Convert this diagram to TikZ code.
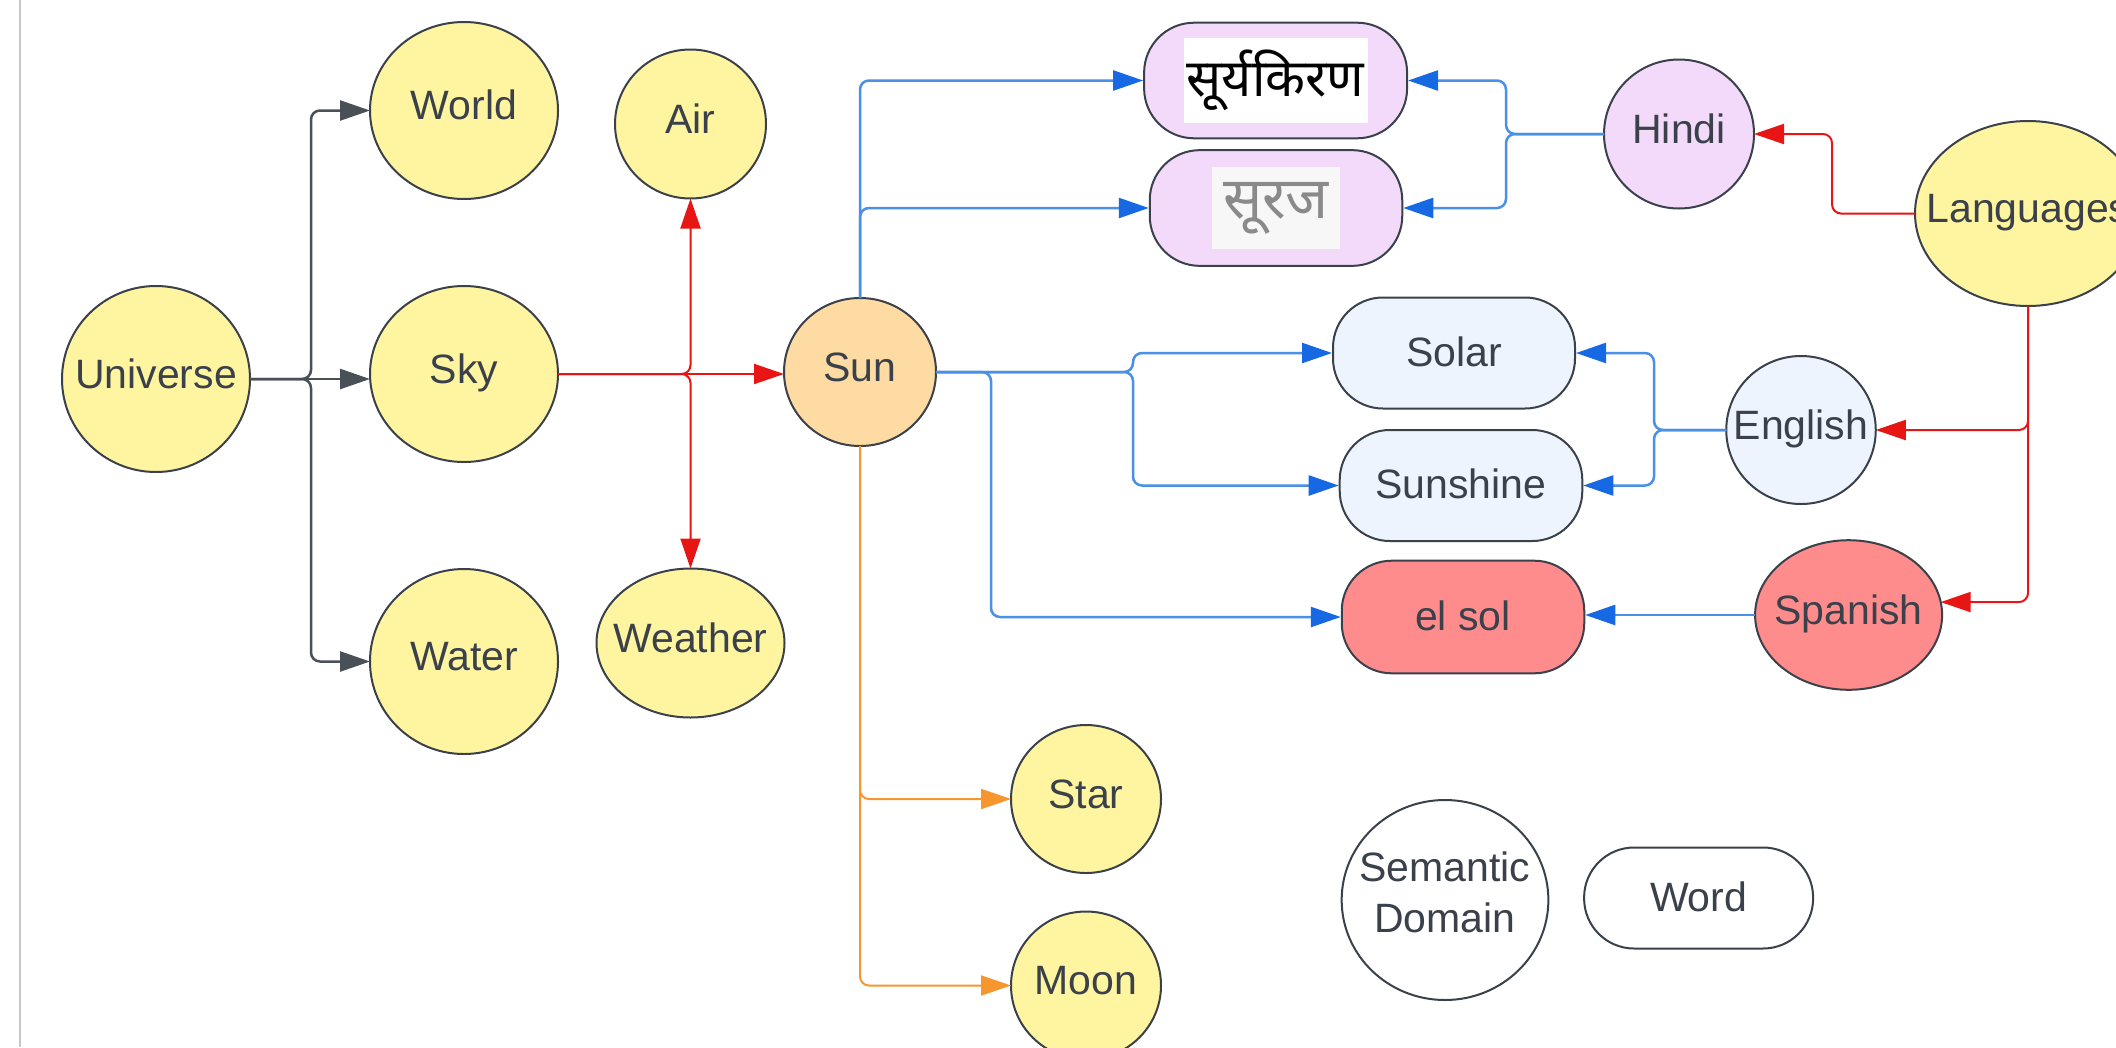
\documentclass[tikz,border=0pt]{standalone}
\usepackage{fontspec}
\setmainfont{Liberation Sans}
\newfontfamily\devfont[Script=Devanagari]{Noto Sans}
\usetikzlibrary{shapes.geometric,arrows.meta}
\definecolor{ink}{HTML}{3A414A}
\definecolor{yel}{HTML}{FFF5A1}
\definecolor{sunc}{HTML}{FEDBA2}
\definecolor{pinkc}{HTML}{F3DAFA}
\definecolor{lblue}{HTML}{EDF4FE}
\definecolor{salmon}{HTML}{FF8C8C}
\definecolor{lnblue}{HTML}{4A90E6}
\definecolor{tipblue}{HTML}{1668E3}
\definecolor{lnred}{HTML}{E81515}
\definecolor{lnorange}{HTML}{F7962E}
\definecolor{lngray}{HTML}{4A5058}
\definecolor{hkgray}{HTML}{8A8A8A}
\definecolor{hkbg}{HTML}{F7F7F7}
\newcommand{\ctext}[1]{\makebox[0pt]{\raisebox{-0.22em}[0pt][0pt]{#1}}}
\newcommand{\ptext}[1]{\raisebox{3pt}{#1}}
\begin{document}
\begin{tikzpicture}[x=1pt,y=-1pt,
  every node/.style={font=\fontsize{41}{48}\selectfont, text=ink},
  circ/.style={ellipse, draw=ink, line width=2pt, inner sep=0pt, outer sep=0pt},
  pill/.style={rectangle, draw=ink, line width=2pt, inner sep=0pt, rounded corners=50pt},
  conn/.style={line width=2.5pt, rounded corners=9pt, -{Triangle[length=30pt,width=20pt]}},
  gconn/.style={conn, draw=lngray},
  rconn/.style={conn, draw=lnred, line width=2pt},
  bconn/.style={line width=2.5pt, rounded corners=9pt, draw=lnblue, -{Triangle[length=30pt,width=20pt,color=tipblue]}},
  oconn/.style={conn, draw=lnorange, line width=2pt}
]
\fill[white] (0,0) rectangle (2116,1047);
\clip (0,0) rectangle (2116,1047);
\draw[black!22, line width=1.5pt] (20,0) -- (20,1047);

% nodes
\node[circ, fill=yel, minimum width=188pt, minimum height=186pt] (uni) at (156,379) {\ctext{Universe}};
\node[circ, fill=yel, minimum width=188pt, minimum height=177pt] (world) at (464,110.5) {\ctext{World}};
\node[circ, fill=yel, minimum width=188pt, minimum height=176pt] (sky) at (464,374) {\ctext{Sky}};
\node[circ, fill=yel, minimum width=188pt, minimum height=185pt] (water) at (464,661.5) {\ctext{Water}};
\node[circ, fill=yel, minimum width=151pt, minimum height=149pt] (air) at (690.5,124) {\ctext{Air}};
\node[circ, fill=yel, minimum width=188pt, minimum height=149pt] (weather) at (690.5,643) {\ctext{Weather}};
\node[circ, fill=sunc, minimum width=152pt, minimum height=148pt] (sun) at (860,372) {\ctext{Sun}};
\node[circ, fill=yel, minimum width=150pt, minimum height=148pt] (star) at (1086,799) {\ctext{Star}};
\node[circ, fill=yel, minimum width=150pt, minimum height=148pt] (moon) at (1086,985.5) {\ctext{Moon}};

\node[pill, fill=pinkc, minimum width=263pt, minimum height=115.6pt] (hk1) at (1275.6,80.5)
  {\setlength{\fboxsep}{0pt}\colorbox{white}{\parbox[c][85pt][c]{184pt}{\centering\color{black}\fontsize{52}{58}\devfont सूर्यकिरण}}};
\node[pill, fill=pinkc, minimum width=252.5pt, minimum height=115.7pt] (hk2) at (1276,208)
  {\setlength{\fboxsep}{0pt}\colorbox{hkbg}{\parbox[c][82pt][c]{128pt}{\centering\color{hkgray}\fontsize{58}{62}\devfont\bfseries सूरज}}};
\node[circ, fill=pinkc, minimum width=150pt, minimum height=149pt] (hindi) at (1679,134) {\ctext{Hindi}};
\node[circ, fill=yel, minimum width=226pt, minimum height=185pt] (lang) at (2028,213.5) {\ctext{Languages}};

\node[pill, fill=lblue, minimum width=242pt, minimum height=111pt] (solar) at (1454,353) {\ptext{Solar}};
\node[pill, fill=lblue, minimum width=242.6pt, minimum height=111pt] (sunshine) at (1461,485.5) {\ptext{Sunshine}};
\node[circ, fill=lblue, minimum width=149.5pt, minimum height=148pt] (english) at (1801,430) {\ctext{English}};

\node[pill, fill=salmon, minimum width=242.5pt, minimum height=112.6pt] (elsol) at (1463,617) {\ptext{el sol}};
\node[circ, fill=salmon, minimum width=187pt, minimum height=149.6pt] (spanish) at (1848.6,615) {\ctext{Spanish}};

\node[circ, fill=white, minimum width=206.7pt, minimum height=200pt] (sem) at (1445,900)
  {\makebox[0pt]{\raisebox{-0.1em}[0pt][0pt]{\begin{tabular}[c]{@{}c@{}}Semantic\\[3pt]Domain\end{tabular}}}};
\node[pill, fill=white, minimum width=229pt, minimum height=101pt] (word) at (1698.6,898) {\ptext{Word}};

% junction coordinates
\coordinate (gj) at (311,0);
\coordinate (bj1) at (1133,0);
\coordinate (bj2) at (991,0);
\coordinate (hj) at (1506,0);
\coordinate (ej) at (1654,0);
\coordinate (lj) at (1832,0);

% gray: Universe
\draw[gconn] (uni.east) -- (gj |- uni.east) -- (gj |- world.west) -- (world.west);
\draw[gconn] (uni.east) -- (gj |- uni.east) -- (gj |- water.west) -- (water.west);
\draw[gconn] (uni.east) -- (uni.east -| sky.west);

% red: Sky
\draw[rconn] (sky.east) -- (sky.east -| sun.west);
\draw[rconn] (sky.east) -- (air.south |- sky.east) -- (air.south);
\draw[rconn] (sky.east) -- (weather.north |- sky.east) -- (weather.north);

% blue: Sun
\draw[bconn] (sun.north) -- (sun.north |- hk1.west) -- (hk1.west);
\draw[bconn] (sun.north) -- (sun.north |- hk2.west) -- (hk2.west);
\draw[bconn] (sun.east) -- (bj1 |- sun.east) -- (bj1 |- solar.west) -- (solar.west);
\draw[bconn] (sun.east) -- (bj1 |- sun.east) -- (bj1 |- sunshine.west) -- (sunshine.west);
\draw[bconn] (sun.east) -- (bj2 |- sun.east) -- (bj2 |- elsol.west) -- (elsol.west);

% blue: languages to words
\draw[bconn] (hindi.west) -- (hj |- hindi.west) -- (hj |- hk1.east) -- (hk1.east);
\draw[bconn] (hindi.west) -- (hj |- hindi.west) -- (hj |- hk2.east) -- (hk2.east);
\draw[bconn] (english.west) -- (ej |- english.west) -- (ej |- solar.east) -- (solar.east);
\draw[bconn] (english.west) -- (ej |- english.west) -- (ej |- sunshine.east) -- (sunshine.east);
\draw[bconn] (spanish.west) -- (spanish.west -| elsol.east);

% red: Languages
\draw[rconn] (lang.west) -- (lj |- lang.west) -- (lj |- hindi.east) -- (hindi.east);
\draw[rconn] (lang.south) -- (lang.south |- english.east) -- (english.east);
\draw[rconn] (lang.south) -- (lang.south |- spanish.8) -- (spanish.8);

% orange: Sun
\draw[oconn] (sun.south) -- (sun.south |- star.west) -- (star.west);
\draw[oconn] (sun.south) -- (sun.south |- moon.west) -- (moon.west);
\end{tikzpicture}
\end{document}
